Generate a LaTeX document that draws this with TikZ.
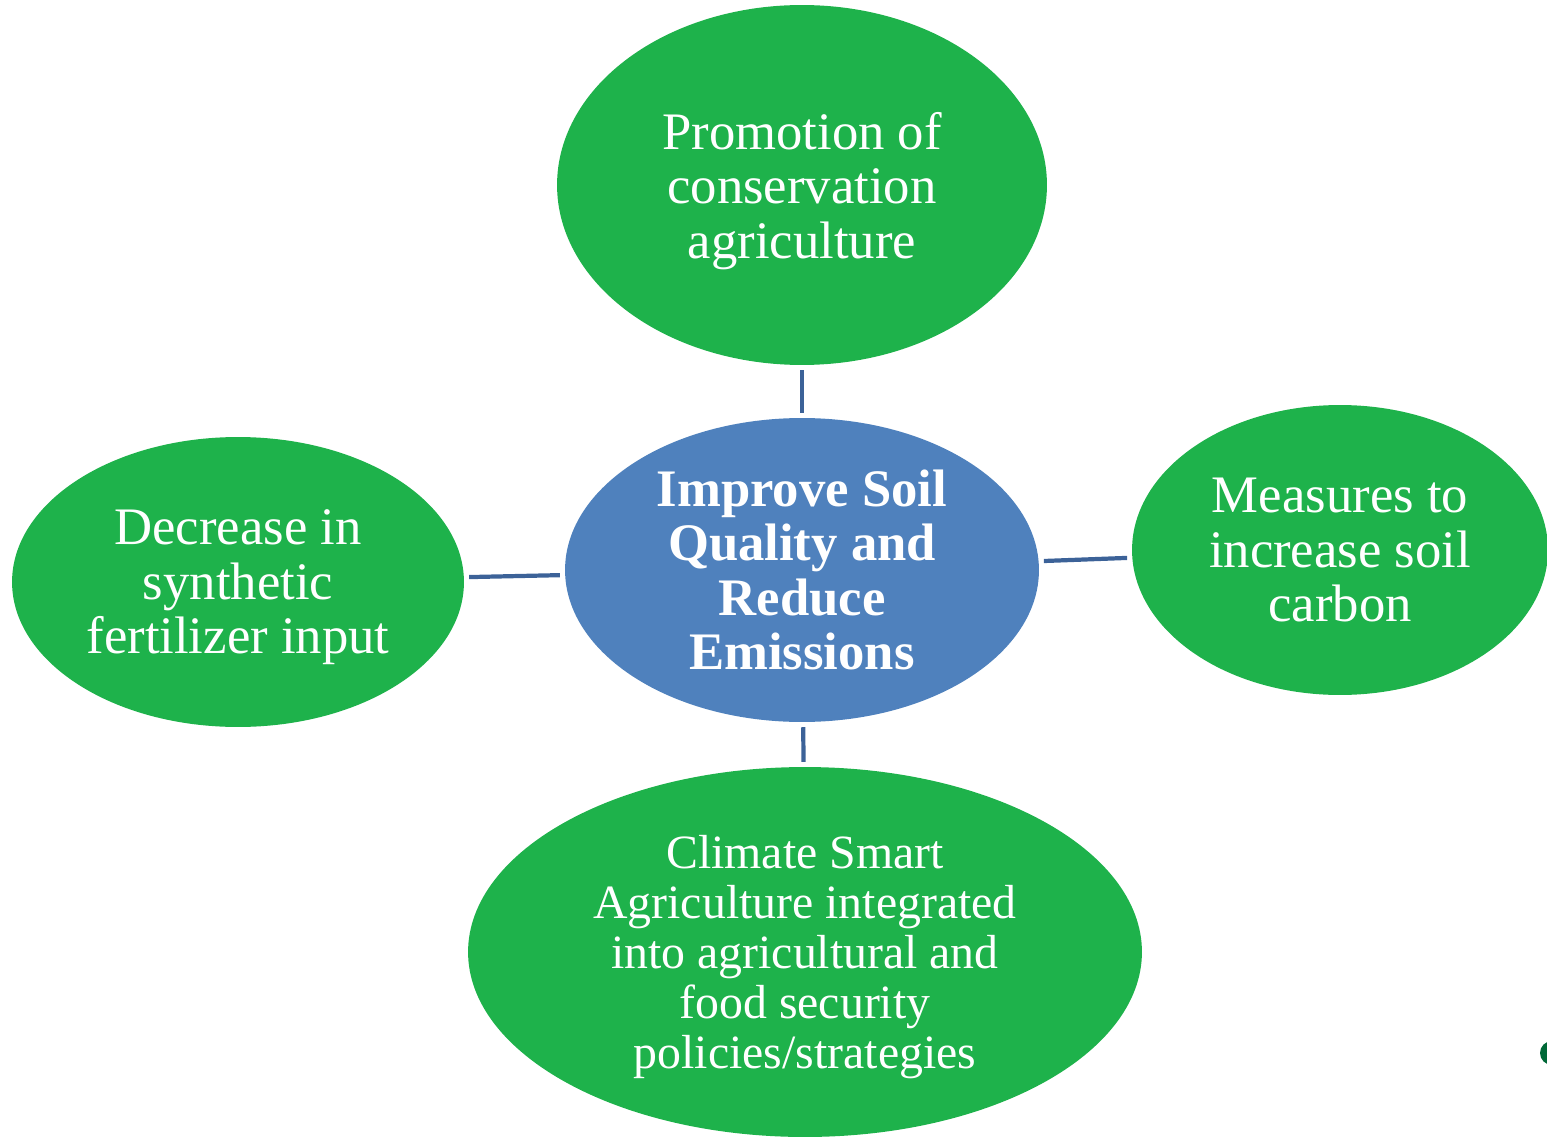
\documentclass[tikz,border=0pt]{standalone}
\usepackage{fontspec}
\setmainfont{Liberation Serif}
\usepackage{tikz}
\usetikzlibrary{shapes.geometric}
\definecolor{leafgreen}{RGB}{30,178,75}
\definecolor{hubblue}{RGB}{79,129,189}
\definecolor{linkblue}{RGB}{60,98,152}
\definecolor{darkleaf}{RGB}{0,104,55}

\begin{document}
\begin{tikzpicture}[x=0.02cm,y=-0.02cm,
        leaf/.style={ellipse,fill=leafgreen,text=white,inner sep=0pt,text depth=0pt,align=center,font=\fontsize{30}{31}\selectfont},
        hub/.style={ellipse,fill=hubblue,text=white,inner sep=0pt,align=center,font=\fontsize{30}{31}\selectfont\bfseries},
        link/.style={draw=linkblue,line width=2.4pt,shorten <=2.8pt,shorten >=2.8pt}]
                \useasboundingbox (0,0) rectangle (1547,1138);
                \node[hub,minimum width=9.48cm,minimum height=6.08cm] (hub) at (802,570) {Improve Soil\\Quality and\\Reduce\\Emissions};
                \node[leaf,minimum width=9.8cm,minimum height=7.2cm] (top) at (802,185) {Promotion of\\conservation\\agriculture};
                \node[leaf,minimum width=9.04cm,minimum height=5.8cm] (left) at (238,582) {Decrease in\\synthetic\\fertilizer input};
                \node[leaf,minimum width=8.32cm,minimum height=5.8cm] (right) at (1340,550) {Measures to\\increase soil\\carbon};
                \node[leaf,minimum width=13.48cm,minimum height=7.4cm,font=\fontsize{27.2}{28.5}\selectfont] (bottom) at (805,952) {Climate Smart\\Agriculture integrated\\into agricultural and\\food security\\policies/strategies};
            
                \foreach \n in {top,left,right,bottom}{
                    \draw[link] (\n) -- (hub);
                }
                \fill[darkleaf] (1552,1053) circle[radius=12];
            \end{tikzpicture}
\end{document}
